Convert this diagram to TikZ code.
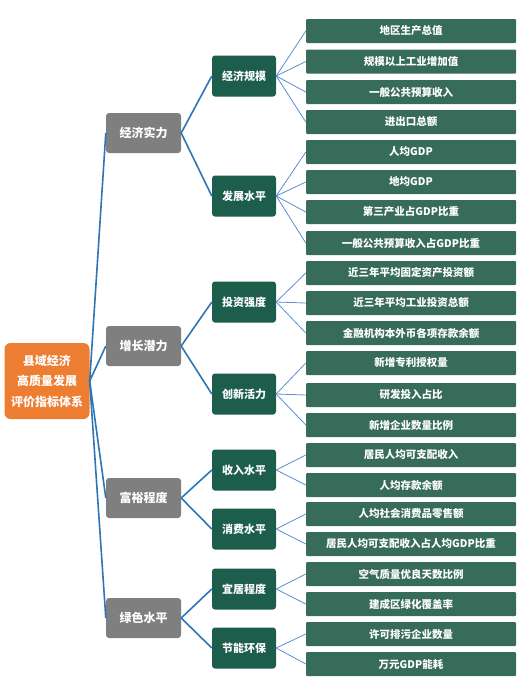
\documentclass[tikz,border=0pt]{standalone}
\usepackage{fontspec}
\setmainfont{Noto Sans CJK SC}
\definecolor{rootorange}{HTML}{ED7D31}
\definecolor{levelgray}{HTML}{7F7F7F}
\definecolor{darkgreen}{HTML}{1C5E4B}
\definecolor{leafgreen}{HTML}{386C5A}
\definecolor{mainlink}{HTML}{2E75B6}
\definecolor{leaflink}{HTML}{5D8ECD}
\begin{document}
\begin{tikzpicture}[x=1pt,y=-1pt]

        \useasboundingbox (0,0) rectangle (517,699);

        \tikzset{box/.style={rectangle,text=white,font=\bfseries,inner sep=0pt,align=center}}

        \node[box,fill=rootorange,rounded corners=6pt,minimum width=85pt,minimum height=76pt,
              font=\bfseries\fontsize{12}{20.5}\selectfont] (0) at (47,381) {县域经济\\高质量发展\\评价指标体系};

        \begin{scope}[every node/.style={box,fill=levelgray,rounded corners=3pt,minimum width=75pt,minimum height=40pt,font=\bfseries\fontsize{12}{14}\selectfont}]
          \node (1)  at (143.5,133) {经济实力};
          \node (2)  at (143.5,346) {增长潜力};
          \node (3)  at (143.5,498) {富裕程度};
          \node (4)  at (143.5,618) {绿色水平};
        \end{scope}

        \begin{scope}[every node/.style={box,fill=darkgreen,rounded corners=3pt,minimum width=64pt,minimum height=41pt,font=\bfseries\fontsize{11}{13}\selectfont}]
          \node (11) at (244,76)  {经济规模};
          \node (12) at (244,196) {发展水平};
          \node (21) at (244,302) {投资强度};
          \node (22) at (244,394) {创新活力};
          \node (31) at (244,470) {收入水平};
          \node (32) at (244,529) {消费水平};
          \node (41) at (244,589) {宜居程度};
          \node (42) at (244,648) {节能环保};
        \end{scope}

        \begin{scope}[every node/.style={box,fill=leafgreen,rounded corners=1pt,minimum width=210pt,minimum height=24pt,font=\bfseries\fontsize{10.5}{12}\selectfont}]
          \node (111) at (411,31)  {地区生产总值};
          \node (112) at (411,61.5) {规模以上工业增加值};
          \node (113) at (411,92)  {一般公共预算收入};
          \node (114) at (411,122) {进出口总额};
          \node (121) at (411,152) {人均GDP};
          \node (122) at (411,182) {地均GDP};
          \node (123) at (411,212) {第三产业占GDP比重};
          \node (124) at (411,243) {一般公共预算收入占GDP比重};
          \node (211) at (411,273) {近三年平均固定资产投资额};
          \node (212) at (411,303) {近三年平均工业投资总额};
          \node (213) at (411,333) {金融机构本外币各项存款余额};
          \node (221) at (411,363) {新增专利授权量};
          \node (222) at (411,395) {研发投入占比};
          \node (223) at (411,425) {新增企业数量比例};
          \node (311) at (411,455) {居民人均可支配收入};
          \node (312) at (411,485) {人均存款余额};
          \node (321) at (411,514) {人均社会消费品零售额};
          \node (322) at (411,544) {居民人均可支配收入占人均GDP比重};
          \node (411) at (411,574) {空气质量优良天数比例};
          \node (412) at (411,604) {建成区绿化覆盖率};
          \node (421) at (411,634) {许可排污企业数量};
          \node (422) at (411,664) {万元GDP能耗};
        \end{scope}

        \begin{scope}[every edge/.style={draw=mainlink,line width=1.6pt}]
          \path (0.east)  edge (1.west);
          \path (0.east)  edge (2.west);
          \path (0.east)  edge (3.west);
          \path (0.east)  edge (4.west);
          \path (1.east)  edge (11.west);
          \path (1.east)  edge (12.west);
          \path (2.east)  edge (21.west);
          \path (2.east)  edge (22.west);
          \path (3.east)  edge (31.west);
          \path (3.east)  edge (32.west);
          \path (4.east)  edge (41.west);
          \path (4.east)  edge (42.west);
        \end{scope}

        \begin{scope}[every edge/.style={draw=leaflink,line width=0.8pt}]
          \path (11.east) edge (111.west);
          \path (11.east) edge (112.west);
          \path (11.east) edge (113.west);
          \path (11.east) edge (114.west);
          \path (12.east) edge (121.west);
          \path (12.east) edge (122.west);
          \path (12.east) edge (123.west);
          \path (12.east) edge (124.west);
          \path (21.east) edge (211.west);
          \path (21.east) edge (212.west);
          \path (21.east) edge (213.west);
          \path (22.east) edge (221.west);
          \path (22.east) edge (222.west);
          \path (22.east) edge (223.west);
          \path (31.east) edge (311.west);
          \path (31.east) edge (312.west);
          \path (32.east) edge (321.west);
          \path (32.east) edge (322.west);
          \path (41.east) edge (411.west);
          \path (41.east) edge (412.west);
          \path (42.east) edge (421.west);
          \path (42.east) edge (422.west);
        \end{scope}

      \end{tikzpicture}
\end{document}
